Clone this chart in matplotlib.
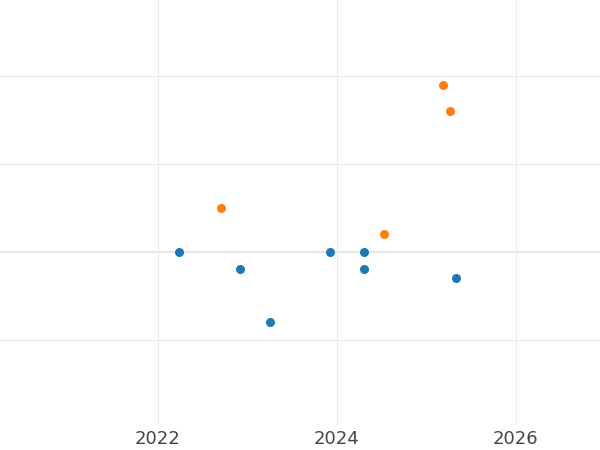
import matplotlib.pyplot as plt

blue_x = [2022.235, 2022.92, 2023.25, 2023.92, 2024.30, 2024.30, 2025.33]
blue_y = [0.0, -0.19, -0.8, 0.0, 0.0, -0.19, -0.3]
orange_x = [2022.705, 2024.525, 2025.185, 2025.26]
orange_y = [0.5, 0.2, 1.9, 1.6]

fig = plt.figure(figsize=(6, 4.5), dpi=100)
ax = fig.add_axes([0, 25 / 450, 1, 425 / 450])
ax.scatter(blue_x, blue_y, color='#1f77b4', s=30, zorder=3)
ax.scatter(orange_x, orange_y, color='#ff7f0e', s=30, zorder=3)

ax.set_xlim(2020.235, 2026.94)
ax.set_ylim(-1.966, 2.864)
ax.set_xticks([2022, 2024, 2026])
ax.set_yticks([-1, 0, 1, 2])
ax.set_yticklabels([])
ax.tick_params(length=0, labelsize=13, labelcolor='#444444')
ax.grid(True, color='#ebebeb', linewidth=0.8)
ax.axhline(0, color='#dddddd', linewidth=1.2, zorder=1)
for s in ax.spines.values():
    s.set_visible(False)

fig.savefig('out.png')
